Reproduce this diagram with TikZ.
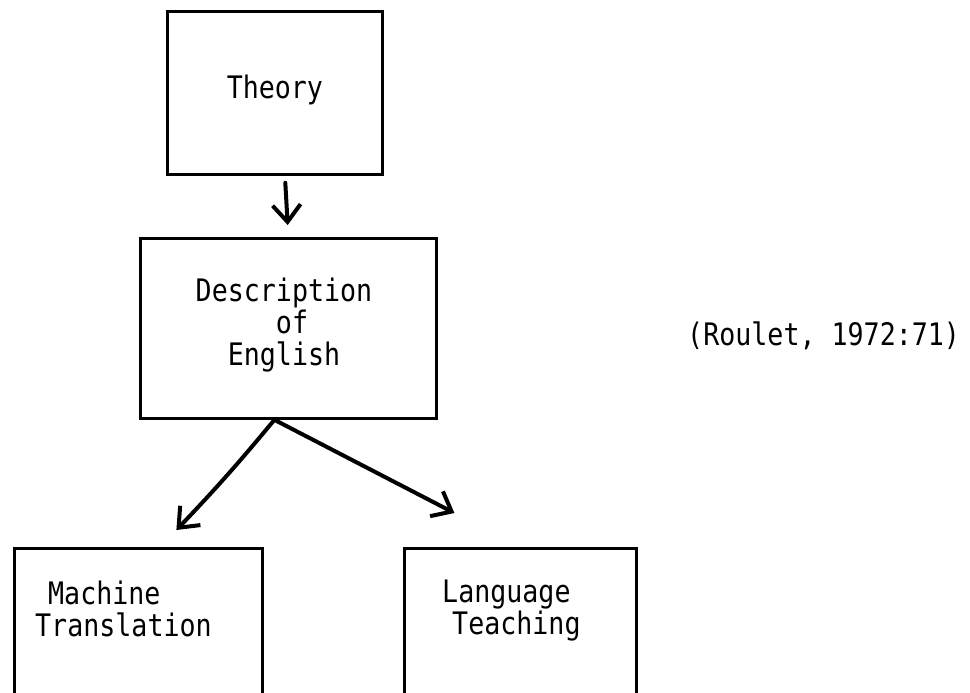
\documentclass[tikz,border=0pt]{standalone}
\usepackage{fontspec}
\setmonofont[FakeStretch=0.86]{DejaVu Sans Mono}
\usetikzlibrary{arrows.meta,calc}

\tikzset{
  box/.style={draw, line width=2.8pt, anchor=north west, inner sep=0pt},
  txt/.style={font=\ttfamily\fontsize{31}{32}\selectfont, inner sep=0pt},
  arr/.style={line width=4pt, line cap=round, -{Straight Barb[length=17pt,width=28pt,line width=4pt]}}
}

\begin{document}
\begin{tikzpicture}[x=1pt,y=-1pt]
\useasboundingbox (0,0) rectangle (970,693);
% boxes
\node[box, minimum width=215pt, minimum height=163pt] (theory) at (166,10) {};
\node[box, minimum width=296pt, minimum height=180pt] (desc) at (139,237) {};
\node[box, minimum width=248pt, minimum height=200pt] (mt) at (13,547) {};
\node[box, minimum width=232pt, minimum height=200pt] (lt) at (403,547) {};
% texts
\node[txt] (theory-txt) at ([yshift=3pt]theory.center) {Theory};
\node[txt, align=left, anchor=north] (desc-txt) at (284,278) {Description\\\phantom{xxxxx}of\\\phantom{xx}English};
\node[txt, align=left, anchor=north west] (mt-txt) at (35,581) {\hspace*{13pt}Machine\\Translation};
\node[txt, align=left, anchor=north west] (lt-txt) at (442,580) {Language\\\hspace*{10pt}Teaching};
\node[txt, anchor=base west] (ref) at (687,345) {(Roulet, 1972:71)};
% arrows
\coordinate (fork) at ([xshift=-14pt]desc.south);
\draw[arr, shorten <=7pt, shorten >=12pt] ([xshift=10pt]theory.south) -- (desc.north);
\draw[arr] (fork) to[bend left=2] ($(mt.north)+(38,-17)$);
\draw[arr] (fork) -- ($(lt.north)+(-66,-34)$);
\end{tikzpicture}
\end{document}
